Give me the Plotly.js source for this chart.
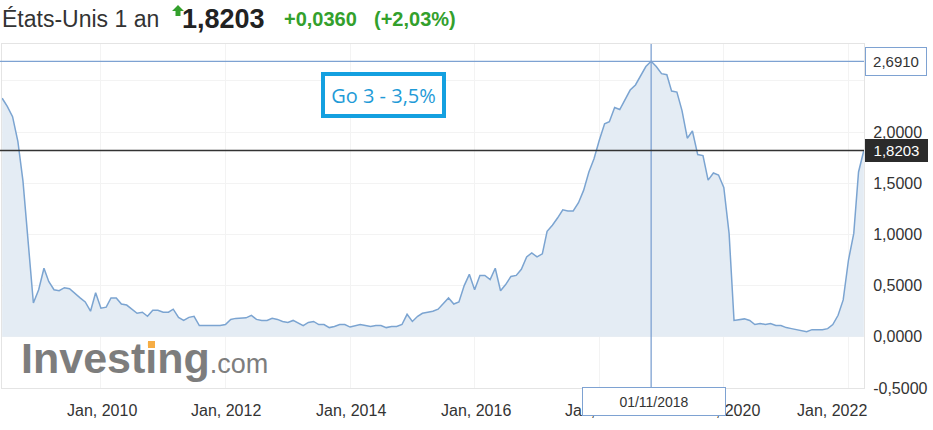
<!DOCTYPE html>
<html>
<head>
<meta charset="utf-8">
<script src="https://cdn.plot.ly/plotly-3.0.1.min.js"></script>
<style>html,body{margin:0;padding:0;background:#fff;}#chart{width:933px;height:430px;}</style>
</head>
<body>
<div id="chart"></div>
<script>
// ---- data (monthly US 1-year yield) ----
const startMonth = '2008-06';
const yieldValues = [
  2.33, 2.25, 2.15, 1.91, 1.52, 0.93, 0.33, 0.46, 0.67, 0.54,
  0.46, 0.45, 0.48, 0.47, 0.42, 0.38, 0.34, 0.25, 0.43, 0.28,
  0.29, 0.38, 0.38, 0.32, 0.31, 0.27, 0.23, 0.24, 0.20, 0.26,
  0.26, 0.24, 0.24, 0.27, 0.19, 0.16, 0.19, 0.20, 0.11, 0.11,
  0.11, 0.11, 0.11, 0.12, 0.17, 0.18, 0.185, 0.185, 0.21, 0.17,
  0.16, 0.16, 0.18, 0.17, 0.15, 0.14, 0.16, 0.14, 0.11, 0.14,
  0.15, 0.12, 0.12, 0.09, 0.10, 0.12, 0.12, 0.095, 0.11, 0.12,
  0.11, 0.10, 0.11, 0.11, 0.09, 0.10, 0.10, 0.12, 0.22, 0.15,
  0.20, 0.23, 0.24, 0.25, 0.27, 0.32, 0.38, 0.32, 0.34, 0.50,
  0.61, 0.46, 0.60, 0.60, 0.56, 0.67, 0.45, 0.51, 0.59, 0.60,
  0.66, 0.78, 0.82, 0.78, 0.81, 1.03, 1.09, 1.16, 1.24, 1.23,
  1.23, 1.31, 1.43, 1.61, 1.74, 1.92, 2.08, 2.10, 2.24, 2.22,
  2.32, 2.41, 2.46, 2.55, 2.64, 2.691, 2.64, 2.57, 2.56, 2.40,
  2.39, 2.21, 1.94, 2.01, 1.78, 1.77, 1.53, 1.60, 1.58, 1.46,
  1.01, 0.16, 0.17, 0.175, 0.16, 0.12, 0.13, 0.12, 0.13, 0.11,
  0.11, 0.09, 0.08, 0.07, 0.06, 0.05, 0.07, 0.07, 0.07, 0.08,
  0.12, 0.21, 0.36, 0.75, 1.01, 1.61, 1.8203
];
const xTickVals = ['2010-01-01','2012-01-01','2014-01-01','2016-01-01','2018-01-01','2020-01-01','2022-01-01'];
const xTickText = ['Jan, 2010','Jan, 2012','Jan, 2014','Jan, 2016','Jan, 2018','Jan, 2020','Jan, 2022'];
const yTickVals = [-0.5, 0, 0.5, 1, 1.5, 2, 2.5];
const yTickText = ['-0,5000','0,0000','0,5000','1,0000','1,5000','2,0000',''];
const titleName = 'États-Unis 1 an';
const lastValueText = '1,8203';
const changeText = '+0,0360';
const changePctText = '(+2,03%)';
const lastValue = 1.8203;
const peakDate = '2018-11-01';
const peakValue = 2.691;
const peakValueText = '2,6910';
const peakDateText = '01/11/2018';
const noteText = 'Go 3 - 3,5%';

// monthly dates
const dates = [];
{
  let [y, m] = startMonth.split('-').map(Number);
  for (let i = 0; i < yieldValues.length; i++) {
    dates.push(y + '-' + String(m).padStart(2, '0') + '-01');
    m++; if (m > 12) { m = 1; y++; }
  }
}

// pixel -> paper helpers for decorations
const W = 933, H = 430, ML = 2, MR = 69, MT = 44, MB = 42;
const PW = W - ML - MR, PH = H - MT - MB;
const px = X => (X - ML) / PW;
const py = Y => (H - MB - Y) / PH;

const FONT = 'Liberation Sans, Arial, sans-serif';
const GREEN = '#33a02c';
const CROSS = '#7ea2d2';

const trace = {
  type: 'scatter', mode: 'lines', x: dates, y: yieldValues,
  line: {color: '#7ba4d1', width: 1.5},
  fill: 'tozeroy', fillcolor: '#e4ecf4',
  hoverinfo: 'skip'
};

const annotations = [];
// title line
annotations.push({xref:'paper', yref:'paper', x:px(0), y:py(19), xanchor:'left', yanchor:'middle', showarrow:false,
  text:titleName, font:{family:FONT, size:23, color:'#333'}});
annotations.push({xref:'paper', yref:'paper', x:px(180), y:py(19), xanchor:'left', yanchor:'middle', showarrow:false,
  text:'<b>'+lastValueText+'</b>', font:{family:FONT, size:27, color:'#222'}});
annotations.push({xref:'paper', yref:'paper', x:px(282), y:py(19), xanchor:'left', yanchor:'middle', showarrow:false,
  text:'<b>'+changeText+'</b>', font:{family:FONT, size:20, color:GREEN}});
annotations.push({xref:'paper', yref:'paper', x:px(372), y:py(19), xanchor:'left', yanchor:'middle', showarrow:false,
  text:'<b>'+changePctText+'</b>', font:{family:FONT, size:20, color:GREEN}});
// note box
annotations.push({xref:'paper', yref:'paper', x:px(383.5), y:py(95), xanchor:'center', yanchor:'middle', showarrow:false,
  text:noteText, font:{family:'Open Sans, sans-serif', size:20, color:'#1f9bd7'},
  bgcolor:'#ffffff', bordercolor:'#14a0e0', borderwidth:4, borderpad:1, width:115, height:36});
// logo
annotations.push({xref:'paper', yref:'paper', x:px(19), y:py(358), xanchor:'left', yanchor:'middle', showarrow:false,
  text:'<b>Investing</b><span style="font-size:27px">.com</span>', font:{family:FONT, size:43, color:'#7d7d7d'}});
// orange accent over the "i" of the logo
annotations.push({xref:'paper', yref:'paper', x:px(151.5), y:py(344), xanchor:'center', yanchor:'middle', showarrow:false,
  text:' ', font:{size:1}, bgcolor:'#f6ad45', borderwidth:0, borderpad:0, width:7, height:7});
// x tick labels
xTickVals.forEach((v, i) => {
  annotations.push({xref:'x', yref:'paper', x:v, y:py(410), xanchor:'center', yanchor:'middle', showarrow:false,
    xshift: (i === xTickVals.length - 1) ? -16 : 1,
    text:xTickText[i], font:{family:FONT, size:16, color:'#333'}});
});
// right value boxes
annotations.push({xref:'paper', yref:'y', x:1, y:peakValue, xanchor:'left', yanchor:'middle', xshift:1, showarrow:false,
  text:peakValueText, font:{family:FONT, size:15, color:'#333'},
  bgcolor:'#ffffff', bordercolor:CROSS, borderwidth:1, borderpad:2, width:56, height:23});
annotations.push({xref:'paper', yref:'y', x:1, y:lastValue, xanchor:'left', yanchor:'middle', xshift:1, showarrow:false,
  text:lastValueText, font:{family:FONT, size:15, color:'#ffffff'},
  bgcolor:'#2b2b2b', bordercolor:'#2b2b2b', borderwidth:1, borderpad:1, width:59, height:19});
// date box (covers part of the Jan 2018 / Jan 2020 labels as in the reference)
annotations.push({xref:'x', yref:'paper', x:peakDate, y:0, xanchor:'center', yanchor:'top', xshift:3, yshift:1, showarrow:false,
  text:peakDateText, font:{family:FONT, size:14, color:'#333'},
  bgcolor:'#ffffff', bordercolor:CROSS, borderwidth:1, borderpad:2, width:138, height:23});

const shapes = [
  {type:'line', xref:'x', yref:'paper', x0:peakDate, x1:peakDate, y0:0, y1:1, line:{color:CROSS, width:1.3}},
  {type:'line', xref:'paper', yref:'y', x0:px(0), x1:1, y0:peakValue, y1:peakValue, line:{color:CROSS, width:1.3}},
  {type:'line', xref:'paper', yref:'y', x0:px(0), x1:1, y0:lastValue, y1:lastValue, line:{color:'#333', width:1.4}},
  // green up arrow in the title
  {type:'path', xref:'paper', yref:'paper', fillcolor:GREEN, line:{width:0},
   path:`M ${px(178)} ${py(5)} L ${px(184)} ${py(11)} L ${px(180.5)} ${py(11)} L ${px(180.5)} ${py(16)} L ${px(175.5)} ${py(16)} L ${px(175.5)} ${py(11)} L ${px(172)} ${py(11)} Z`},
];

const layout = {
  width: W, height: H,
  margin: {l: ML, r: MR, t: MT, b: MB, pad: 0},
  paper_bgcolor: '#ffffff', plot_bgcolor: '#ffffff',
  showlegend: false, hovermode: false,
  xaxis: {type:'date', range:['2008-05-31','2022-04-02'], tickvals:xTickVals, showticklabels:false,
    showgrid:true, gridcolor:'#f3f3f3', gridwidth:1, showline:true, mirror:true, linecolor:'#e4e4e4', linewidth:1,
    zeroline:false, ticks:''},
  yaxis: {side:'right', range:[-0.5, 2.86], tickvals:yTickVals, ticktext:yTickText,
    showgrid:true, gridcolor:'#f3f3f3', gridwidth:1, showline:true, mirror:true, linecolor:'#e4e4e4', linewidth:1,
    zeroline:false, ticks:'', ticklabelstandoff:5, tickfont:{family:FONT, size:16, color:'#333'}},
  annotations: annotations,
  shapes: shapes
};

Plotly.newPlot('chart', [trace], layout, {staticPlot:true, displayModeBar:false});
</script>
</body>
</html>
